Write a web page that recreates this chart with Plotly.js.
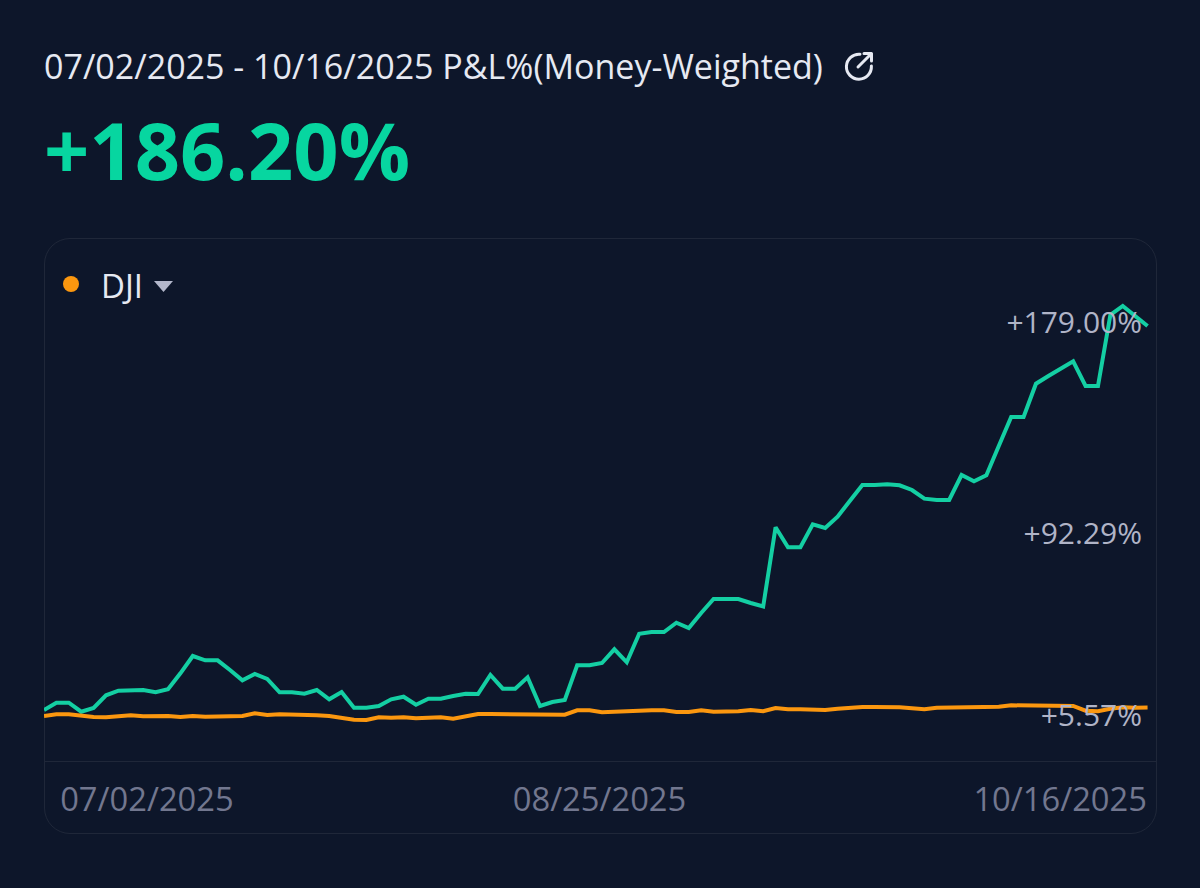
<!DOCTYPE html>
<html><head><meta charset="utf-8">
<script src="https://cdn.plot.ly/plotly-3.0.1.min.js"></script>
<style>
html,body{margin:0;padding:0;background:#0d162a;width:1200px;height:888px;overflow:hidden}
#chart{position:absolute;left:0;top:0;width:1200px;height:888px}
#card{position:absolute;left:44px;top:238px;width:1111px;height:594px;border:1px solid #1f2739;border-radius:26px;pointer-events:none}
#icon{position:absolute;left:843px;top:50px;width:32px;height:32px}
</style></head><body>
<div id="card"></div>
<div id="chart"></div>
<svg id="icon" viewBox="0 0 32 32" fill="none" stroke="#e6e9f2" stroke-width="3" stroke-linecap="round" stroke-linejoin="round">
<path d="M17 4.2A12.5 12.5 0 1 0 28.4 16"/><path d="M15 17 L28 4"/><path d="M21 3.5 H28.5 V11"/>
</svg>
<script>
const portfolioPct = [4.39,7.84,7.84,3.58,5.33,11.35,13.52,13.86,13.86,12.77,14.19,21.76,29.96,27.92,27.92,23.33,18.45,21.43,19.06,12.77,12.77,12.10,13.86,9.45,12.91,5.48,5.48,6.28,9.45,10.68,6.90,9.74,9.74,11.02,12.10,11.96,20.96,14.47,14.47,19.87,6.28,8.17,9.12,25.55,25.55,26.64,33.13,26.97,40.51,41.32,41.32,45.72,43.21,50.32,56.94,56.94,56.94,55.05,53.39,90.89,81.42,81.42,92.31,90.56,95.91,103.49,110.92,110.92,111.26,110.78,108.56,104.44,103.82,103.82,115.66,112.68,115.52,129.39,143.12,143.12,158.89,162.54,165.99,169.50,157.80,157.80,191.42,195.68,190.94,186.20];
const djiPct = [1.55,2.35,2.35,1.55,1.07,0.93,1.40,1.88,1.40,1.40,1.55,1.07,1.55,1.21,1.21,1.21,1.55,2.82,2.02,2.35,2.35,2.35,1.88,1.55,0.74,-0.21,-0.35,0.93,0.74,0.93,0.46,0.93,0.93,0.27,1.55,2.49,2.49,2.49,2.49,2.49,2.49,2.49,2.16,4.24,4.24,3.30,3.58,4.05,4.24,4.24,4.24,3.44,3.44,4.24,3.58,3.58,3.77,4.39,3.77,5.33,4.72,4.72,4.72,4.39,5.00,5.48,5.81,5.81,5.95,5.66,5.19,4.72,5.48,5.48,5.48,5.66,5.66,5.95,6.61,6.61,6.42,6.28,6.28,6.28,4.05,3.77,5.00,5.66,5.48,5.57];
const sessions = portfolioPct.map((_, i) => i);
const xTickText = ['07/02/2025','08/25/2025','10/16/2025'];
const xTickAt = [8.3,44.8,81.95];
const yTickText = ['+179.00%','+92.29%','+5.57%'];
const yTickAt = [188.0,87.9,1.75];
const titleText = '07/02/2025 - 10/16/2025 P&amp;L%(Money-Weighted)';
const headlineText = '+186.20%';
const benchmarkName = 'DJI';

const L=44,R=1156,T=239,B=761;
const px = x => (x-L)/(R-L);
const py = y => (B-y)/(B-T);
const font = 'Open Sans, Noto Sans, sans-serif';

const traces = [
 {x:sessions,y:portfolioPct,type:'scatter',mode:'lines',name:'Portfolio',line:{color:'#14cfa3',width:4},hoverinfo:'skip'},
 {x:sessions,y:djiPct,type:'scatter',mode:'lines',name:benchmarkName,line:{color:'#fb970f',width:4},hoverinfo:'skip'}
];
const layout = {
 width:1200,height:888,
 margin:{l:L,r:1200-R,t:T,b:888-B,pad:0},
 paper_bgcolor:'rgba(0,0,0,0)',plot_bgcolor:'rgba(0,0,0,0)',
 showlegend:false,
 xaxis:{range:[0,89.68],tickmode:'array',tickvals:xTickAt,ticktext:xTickText,showgrid:false,zeroline:false,
   showline:true,linecolor:'#1f2739',linewidth:1,ticks:'',ticklabelstandoff:10,
   tickfont:{family:font,size:32.7,color:'#72778f'}},
 yaxis:{range:[-19.76,227.4],side:'left',anchor:'free',position:px(1142),tickmode:'array',tickvals:yTickAt,ticktext:yTickText,
   showgrid:false,zeroline:false,showline:false,ticks:'',
   tickfont:{family:font,size:30,color:'#b0b4c7'}},
 annotations:[
  {xref:'paper',yref:'paper',x:px(44),y:py(66),xanchor:'left',yanchor:'middle',showarrow:false,text:titleText,xshift:-2,
   font:{family:font,size:34,color:'#e6e9f2'}},
  {xref:'paper',yref:'paper',x:px(44),y:py(149),xanchor:'left',yanchor:'middle',showarrow:false,text:'<b>'+headlineText+'</b>',xshift:-2,
   font:{family:font,size:79.3,color:'#07d6a0'}},
  {xref:'paper',yref:'paper',x:px(101),y:py(285),xanchor:'left',yanchor:'middle',showarrow:false,text:benchmarkName,xshift:-2,
   font:{family:font,size:33,color:'#e6e9f2'}}
 ],
 shapes:[
  {type:'circle',xref:'paper',yref:'paper',x0:px(63),x1:px(79),y0:py(292),y1:py(276),fillcolor:'#fb970f',line:{width:0}},
  {type:'path',xref:'paper',yref:'paper',
   path:`M ${px(154)} ${py(281)} L ${px(173)} ${py(281)} L ${px(163.5)} ${py(292)} Z`,fillcolor:'#b3b7cb',line:{width:0}}
 ]
};
Plotly.newPlot('chart',traces,layout,{displayModeBar:false,staticPlot:true});
</script></body></html>
